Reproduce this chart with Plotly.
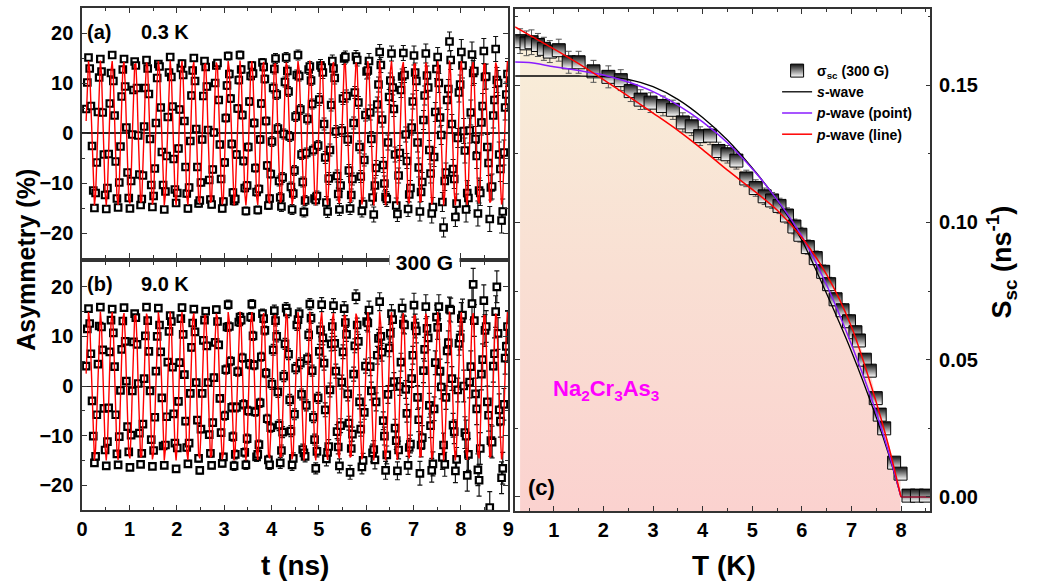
import plotly.graph_objects as go

W, H = 1051, 582

# ---------------- panels (a) and (b): muSR asymmetry time spectra ----------------
T_START = 0.085
T_STEP = 0.025

ASYM_A = [4.8,
 10.1,15.1,12.9,5.4,-2.6,-11.5,-15.0,-12.0,-5.9,4.2,11.1,14.8,12.3,4.1,-4.3,-12.4,-15.2,-11.0,-4.2,5.9,12.0,15.6,10.4,3.5,-5.7,-13.1,-14.9,-9.9,-2.7,7.3,12.7,14.8,9.3,1.1,-7.9,-13.0,-15.1,-9.6,-0.3,8.6,14.3,13.5,9.0,-0.5,-8.3,-14.4,-13.2,-8.5,1.3,9.0,14.6,12.9,7.8,-1.2,-10.4,-14.8,-12.6,-7.1,2.0,
 11.0,13.8,13.3,5.1,-3.8,-10.4,-15.3,-11.7,-4.6,3.2,12.1,15.2,11.2,5.3,-5.2,-11.3,-14.0,-12.0,-3.1,4.7,13.0,13.9,11.6,2.4,-6.8,-12.1,-15.1,-10.9,-1.6,7.5,12.5,15.0,10.4,0.8,-6.8,-14.1,-13.5,-9.9,-1.3,7.4,14.4,13.2,9.3,0.6,-9.4,-13.3,-14.3,-7.3,0.1,10.0,13.5,14.0,6.6,-2.3,-9.2,-15.1,-13.7,-5.9,3.0,
 9.5,15.4,11.8,6.9,-2.2,-11.9,-13.6,-13.2,-4.3,4.9,10.6,15.6,12.7,3.6,-5.6,-11.0,-15.6,-10.5,-2.8,6.3,11.4,13.5,11.9,2.0,-7.0,-11.8,-15.4,-11.2,-1.3,5.9,14.1,13.2,10.8,2.4,-6.5,-14.5,-13.1,-8.2,-1.7,9.0,12.8,14.9,7.7,0.9,-9.6,-12.9,-14.7,-8.9,-0.2,10.2,15.1,12.4,8.3,-0.7,-10.8,-15.3,-12.1,-7.5,3.3,
 11.6,15.6,11.4,4.7,-4.3,-9.8,-15.8,-13.5,-4.0,2.8,12.7,13.3,10.5,5.8,-3.4,-13.1,-13.4,-12.6,-2.5,6.7,13.5,13.1,12.1,1.8,-4.9,-13.9,-15.7,-9.1,-3.4,5.6,14.4,12.9,11.0,0.3,-8.6,-12.2,-15.3,-10.5,0.5,6.9,14.9,15.2,7.4,-1.3,-7.5,-15.1,-12.4,-9.2,2.0,8.1,15.3,14.6,6.1,-2.8,-8.7,-15.6,-14.2,-5.4,3.6,
 12.3,12.5,14.4,4.1,-1.2,-12.9,-16.3,-10.5,-7.0,5.7,9.7,16.2,13.6,2.7,-6.4,-10.1,-12.8,-13.2,-1.9,7.2,10.5,15.9,9.1,4.8,-4.3,-14.5,-16.2,-8.5,-4.0,8.6,11.3,16.0,11.6,-0.3,-5.6,-15.2,-12.3,-11.0,1.1,6.3,15.5,12.1,10.4,-1.9,-6.9,-15.7,-11.8,-9.8,2.6,7.5,15.9,11.5,9.1,-3.4,-8.1,-16.1,-14.8,-4.8,4.2,
 12.8,15.2,10.0,3.1,-0.4,-13.8,-18.9,-9.6,-7.9,6.6,8.8,18.3,14.6,1.8,-7.2,-9.2,-16.8,-14.1,-1.0,8.1,9.7,16.2,13.5,0.4,-3.5,-15.3,-12.0,-13.0,0.5,4.1,15.7,12.0,12.4,-1.2,-4.6,-16.1,-11.5,-12.0,2.1,5.4,16.4,11.2,11.3,-2.8,-6.0,-17.2,-10.9,-10.7,3.5,6.6,16.8,10.6,10.0,-4.3,-7.2,-17.5,-15.7,-3.9,5.1,
 7.7,11.8]

FIT_A = [2.4,
 10.4,14.4,12.6,5.9,-3.1,-11.0,-14.5,-12.3,-5.2,3.9,11.5,14.5,11.8,4.5,-4.6,-11.9,-14.5,-11.4,-3.7,5.4,12.3,14.4,10.9,3.0,-6.1,-12.7,-14.4,-10.3,-2.2,6.8,13.1,14.2,9.8,1.5,-7.4,-13.4,-14.1,-9.2,-0.7,8.1,13.7,13.9,8.6,-0.1,-8.7,-13.9,-13.6,-8.0,0.8,9.3,14.1,13.3,7.3,-1.6,-9.9,-14.3,-13.0,-6.6,2.4,
 10.4,14.4,12.6,5.9,-3.1,-11.0,-14.5,-12.3,-5.2,3.9,11.5,14.5,11.8,4.5,-4.6,-11.9,-14.5,-11.4,-3.7,5.4,12.3,14.4,10.9,3.0,-6.1,-12.7,-14.4,-10.3,-2.2,6.8,13.1,14.2,9.8,1.5,-7.4,-13.4,-14.1,-9.2,-0.7,8.1,13.7,13.9,8.6,-0.1,-8.7,-13.9,-13.6,-8.0,0.8,9.3,14.1,13.3,7.3,-1.6,-9.9,-14.3,-13.0,-6.6,2.4,
 10.4,14.4,12.6,5.9,-3.1,-11.0,-14.5,-12.3,-5.2,3.9,11.5,14.5,11.8,4.5,-4.6,-11.9,-14.5,-11.4,-3.7,5.4,12.3,14.4,10.9,3.0,-6.1,-12.7,-14.4,-10.3,-2.2,6.8,13.1,14.2,9.8,1.5,-7.4,-13.4,-14.1,-9.2,-0.7,8.1,13.7,13.9,8.6,-0.1,-8.7,-13.9,-13.6,-8.0,0.8,9.3,14.1,13.3,7.3,-1.6,-9.9,-14.3,-13.0,-6.6,2.4,
 10.4,14.4,12.6,5.9,-3.1,-11.0,-14.5,-12.3,-5.2,3.9,11.5,14.5,11.8,4.5,-4.6,-11.9,-14.5,-11.4,-3.7,5.4,12.3,14.4,10.9,3.0,-6.1,-12.7,-14.4,-10.3,-2.2,6.8,13.1,14.2,9.8,1.5,-7.4,-13.4,-14.1,-9.2,-0.7,8.1,13.7,13.9,8.6,-0.1,-8.7,-13.9,-13.6,-8.0,0.8,9.3,14.1,13.3,7.3,-1.6,-9.9,-14.3,-13.0,-6.6,2.4,
 10.4,14.4,12.6,5.9,-3.1,-11.0,-14.5,-12.3,-5.2,3.9,11.5,14.5,11.8,4.5,-4.6,-11.9,-14.5,-11.4,-3.7,5.4,12.3,14.4,10.9,3.0,-6.1,-12.7,-14.4,-10.3,-2.2,6.8,13.1,14.2,9.8,1.5,-7.4,-13.4,-14.1,-9.2,-0.7,8.1,13.7,13.9,8.6,-0.1,-8.7,-13.9,-13.6,-8.0,0.8,9.3,14.1,13.3,7.3,-1.6,-9.9,-14.3,-13.0,-6.6,2.4,
 10.4,14.4,12.6,5.9,-3.1,-11.0,-14.5,-12.3,-5.2,3.9,11.5,14.5,11.8,4.5,-4.6,-11.9,-14.5,-11.4,-3.7,5.4,12.3,14.4,10.9,3.0,-6.1,-12.7,-14.4,-10.3,-2.2,6.8,13.1,14.2,9.8,1.5,-7.4,-13.4,-14.1,-9.2,-0.7,8.1,13.7,13.9,8.6,-0.1,-8.7,-13.9,-13.6,-8.0,0.8,9.3,14.1,13.3,7.3,-1.6,-9.9,-14.3,-13.0,-6.6,2.4,
 10.4,14.4]

ASYM_B = [4.0,
 11.5,15.6,12.6,6.5,-3.0,-10.1,-15.5,-14.2,-5.8,4.4,12.1,15.9,11.9,7.3,-4.5,-12.9,-16.1,-11.2,-4.4,6.9,13.3,15.5,10.7,3.9,-5.8,-13.7,-15.9,-10.2,-0.9,7.4,13.1,15.8,9.0,1.0,-8.2,-13.3,-16.4,-9.9,-1.0,8.9,14.6,13.8,8.4,0.5,-9.5,-15.8,-13.6,-7.7,1.5,10.1,15.9,13.2,7.0,-1.0,-10.8,-16.2,-13.0,-6.3,3.0,
 10.0,15.7,12.3,6.9,-2.4,-12.1,-16.0,-11.9,-6.2,4.8,11.0,14.2,13.0,3.8,-5.6,-11.5,-16.7,-12.5,-3.1,4.7,13.6,15.8,10.4,2.3,-7.1,-12.4,-15.7,-11.5,-1.5,7.8,12.7,15.5,10.9,0.7,-6.9,-14.6,-17.0,-8.7,-1.5,9.2,13.3,15.1,8.1,0.7,-9.8,-13.6,-16.0,-7.4,1.7,8.8,15.4,13.0,8.3,-2.5,-9.4,-15.6,-14.3,-6.0,3.3,
 11.9,16.4,12.0,5.0,-4.3,-10.2,-16.1,-13.8,-4.3,2.9,12.9,13.9,13.3,5.7,-3.7,-13.4,-15.9,-10.6,-5.0,4.4,13.9,16.5,10.1,4.2,-5.2,-14.3,-13.8,-11.8,-3.4,5.9,14.6,13.6,11.2,2.6,-6.6,-14.9,-15.9,-8.4,0.4,7.3,15.2,13.2,10.0,-1.2,-7.9,-15.5,-13.0,-9.3,2.0,8.5,15.7,14.9,6.4,-2.8,-9.1,-15.9,-14.6,-5.7,3.6,
 12.3,13.4,14.6,4.6,-1.7,-12.8,-13.5,-14.2,-3.9,5.5,10.3,16.5,13.7,3.1,-6.3,-10.8,-16.6,-13.2,-2.4,7.0,11.3,16.4,9.7,4.6,-4.8,-14.7,-13.4,-12.2,-0.8,8.5,12.0,16.2,8.6,3.0,-9.2,-12.3,-16.1,-8.0,0.8,6.9,15.6,12.8,10.4,-1.6,-7.5,-17.4,-12.6,-9.7,2.4,8.1,18.0,12.3,9.0,-3.2,-8.7,-16.3,-15.0,-5.3,4.0,
 13.0,12.7,15.3,3.9,-1.0,-13.5,-12.8,-14.9,-3.2,6.2,9.6,17.0,10.0,6.8,-7.0,-10.1,-17.0,-13.9,-1.7,7.7,10.6,14.6,13.4,0.9,-8.5,-11.0,-17.1,-12.9,-0.1,4.8,15.7,12.5,12.3,-0.7,-5.5,-16.0,-12.4,-11.7,1.5,6.2,16.3,12.1,11.1,-2.3,-6.8,-17.6,-11.9,-10.4,3.1,7.4,16.0,11.6,9.7,-3.9,-8.0,-17.0,-15.7,-4.6,4.7,
 13.9,11.8,16.0,3.0,-0.2,-14.4,-11.9,-15.8,-2.3,7.1,8.7,15.5,15.3,1.5,-7.9,-9.2,-17.1,-14.8,-0.8,8.6,9.7,13.6,14.3,0.0,-9.4,-10.1,-18.0,-13.8,0.8,3.9,16.6,20.5,13.2,-1.6,-4.6,-16.9,-19.0,-12.6,2.4,5.3,17.2,11.2,12.0,-3.2,-5.9,-24.5,-11.0,-11.3,4.0,6.5,15.0,20.0,10.6,-4.8,-7.1,-18.5,-16.6,-3.7,5.6,
 8.0,12.0]

FIT_B = [2.5,
 10.8,14.9,13.1,6.1,-3.2,-11.3,-15.0,-12.7,-5.4,4.0,11.8,15.0,12.2,4.6,-4.8,-12.3,-15.0,-11.7,-3.9,5.5,12.8,14.9,11.2,3.1,-6.3,-13.2,-14.9,-10.7,-2.3,7.0,13.5,14.7,10.1,1.5,-7.7,-13.8,-14.6,-9.5,-0.7,8.4,14.1,14.3,8.9,-0.1,-9.0,-14.4,-14.1,-8.2,0.9,9.6,14.6,13.8,7.5,-1.7,-10.2,-14.8,-13.5,-6.8,2.5,
 10.8,14.9,13.1,6.1,-3.2,-11.3,-15.0,-12.7,-5.4,4.0,11.8,15.0,12.2,4.6,-4.8,-12.3,-15.0,-11.7,-3.9,5.5,12.8,14.9,11.2,3.1,-6.3,-13.2,-14.9,-10.7,-2.3,7.0,13.5,14.7,10.1,1.5,-7.7,-13.8,-14.6,-9.5,-0.7,8.4,14.1,14.3,8.9,-0.1,-9.0,-14.4,-14.1,-8.2,0.9,9.6,14.6,13.8,7.5,-1.7,-10.2,-14.8,-13.5,-6.8,2.5,
 10.8,14.9,13.1,6.1,-3.2,-11.3,-15.0,-12.7,-5.4,4.0,11.8,15.0,12.2,4.6,-4.8,-12.3,-15.0,-11.7,-3.9,5.5,12.8,14.9,11.2,3.1,-6.3,-13.2,-14.9,-10.7,-2.3,7.0,13.5,14.7,10.1,1.5,-7.7,-13.8,-14.6,-9.5,-0.7,8.4,14.1,14.3,8.9,-0.1,-9.0,-14.4,-14.1,-8.2,0.9,9.6,14.6,13.8,7.5,-1.7,-10.2,-14.8,-13.5,-6.8,2.5,
 10.8,14.9,13.1,6.1,-3.2,-11.3,-15.0,-12.7,-5.4,4.0,11.8,15.0,12.2,4.6,-4.8,-12.3,-15.0,-11.7,-3.9,5.5,12.8,14.9,11.2,3.1,-6.3,-13.2,-14.9,-10.7,-2.3,7.0,13.5,14.7,10.1,1.5,-7.7,-13.8,-14.6,-9.5,-0.7,8.4,14.1,14.3,8.9,-0.1,-9.0,-14.4,-14.1,-8.2,0.9,9.6,14.6,13.8,7.5,-1.7,-10.2,-14.8,-13.5,-6.8,2.5,
 10.8,14.9,13.1,6.1,-3.2,-11.3,-15.0,-12.7,-5.4,4.0,11.8,15.0,12.2,4.6,-4.8,-12.3,-15.0,-11.7,-3.9,5.5,12.8,14.9,11.2,3.1,-6.3,-13.2,-14.9,-10.7,-2.3,7.0,13.5,14.7,10.1,1.5,-7.7,-13.8,-14.6,-9.5,-0.7,8.4,14.1,14.3,8.9,-0.1,-9.0,-14.4,-14.1,-8.2,0.9,9.6,14.6,13.8,7.5,-1.7,-10.2,-14.8,-13.5,-6.8,2.5,
 10.8,14.9,13.1,6.1,-3.2,-11.3,-15.0,-12.7,-5.4,4.0,11.8,15.0,12.2,4.6,-4.8,-12.3,-15.0,-11.7,-3.9,5.5,12.8,14.9,11.2,3.1,-6.3,-13.2,-14.9,-10.7,-2.3,7.0,13.5,14.7,10.1,1.5,-7.7,-13.8,-14.6,-9.5,-0.7,8.4,14.1,14.3,8.9,-0.1,-9.0,-14.4,-14.1,-8.2,0.9,9.6,14.6,13.8,7.5,-1.7,-10.2,-14.8,-13.5,-6.8,2.5,
 10.8,14.9]

# error bar size per 1-ns interval (grows with time)
ERR_PER_NS_A = [0.5, 0.6, 0.7, 0.8, 1.0, 1.2, 1.5, 1.9, 2.5]
ERR_PER_NS_B = [0.5, 0.6, 0.7, 0.9, 1.1, 1.4, 1.8, 2.4, 3.2]

# ---------------- panel (c): superfluid relaxation rate vs temperature ----------------
TEMP = [0.32,0.45,0.55,0.68,0.80,0.92,1.10,1.30,1.50,1.80,2.10,2.35,2.55,2.75,2.95,3.20,3.40,3.60,3.78,3.95,
        4.15,4.32,4.50,4.68,4.88,5.07,5.25,5.40,5.55,5.70,5.85,5.97,6.12,6.28,6.43,6.55,6.68,6.82,6.95,7.08,
        7.15,7.27,7.37,7.49,7.57,7.66,7.86,7.99,8.15,8.32,8.50]
SIGMA = [0.1660,0.1652,0.1656,0.1646,0.1632,0.1622,0.1627,0.1583,0.1583,0.1550,0.1530,0.1518,0.1478,0.1447,0.1436,
         0.1424,0.1410,0.1364,0.1350,0.1314,0.1316,0.1260,0.1248,0.1225,0.1160,0.1125,0.1095,0.1080,0.1060,0.1025,
         0.0985,0.0955,0.0910,0.0870,0.0820,0.0775,0.0720,0.0680,0.0640,0.0600,0.0570,0.0500,0.0460,0.0360,0.0300,
         0.0250,0.0125,0.0085,0.0005,0.0005,0.0005]
SIGMA_ERR = [0.0045,0.0045,0.0045,0.0042,0.0042,0.0040,0.0040,0.0040,0.0040,0.0040,0.0040,0.0038,0.0038,0.0036,0.0036,
             0.0036,0.0035,0.0035,0.0034,0.0034,0.0033,0.0032,0.0032,0.0031,0.0030,0.0030,0.0030,0.0029,0.0028,0.0028,
             0.0027,0.0027,0.0026,0.0026,0.0025,0.0025,0.0024,0.0024,0.0023,0.0023,0.0022,0.0022,0.0021,0.0021,0.0020,
             0.0020,0.0020,0.0020,0.0015,0.0015,0.0015]

CURVE_T = [0.22,0.5,1.0,1.5,2.0,2.5,3.0,3.5,4.0,4.5,5.0,5.5,6.0,6.5,7.0,7.5,7.75,8.0]
S_WAVE  = [0.1533,0.1533,0.1533,0.1533,0.1531,0.1521,0.1494,0.1448,0.1382,0.1300,0.1198,0.1082,0.0935,0.0740,0.0530,0.0290,0.0155,0.0]
P_POINT = [0.1584,0.1582,0.1567,0.1553,0.1537,0.1511,0.1476,0.1427,0.1366,0.1290,0.1195,0.1083,0.0950,0.0772,0.0555,0.0308,0.0163,0.0]
P_LINE  = [0.1712,0.1683,0.1632,0.1578,0.1520,0.1460,0.1398,0.1335,0.1265,0.1190,0.1120,0.1045,0.0945,0.0810,0.0620,0.0345,0.0185,0.0]
NORMAL_T = [8.0, 8.59]
NORMAL_V = [0.0, 0.0]

X_AB_RANGE = [0, 9]
Y_AB_RANGE = [-25, 25]
X_C_RANGE = [0.22, 8.59]
Y_C_RANGE = [-0.0051, 0.1777]

# ------------------------------------------------------------------
time = [round(T_START + T_STEP * i, 4) for i in range(len(ASYM_A))]
err_a = [ERR_PER_NS_A[min(int(t), 8)] for t in time]
err_b = [ERR_PER_NS_B[min(int(t), 8)] for t in time]

FONT = "Liberation Sans, Arial, sans-serif"

def px_x(x):
    return x / W

def px_y(y):
    return 1 - y / H

fig = go.Figure()

marker_ab = dict(symbol="square", size=6.5, color="white", line=dict(color="black", width=2.2))

fig.add_trace(go.Scatter(x=time, y=ASYM_A, mode="markers", marker=marker_ab,
                         error_y=dict(type="data", array=err_a, color="#111111", thickness=1.2, width=2.5),
                         xaxis="x", yaxis="y", showlegend=False))
fig.add_trace(go.Scatter(x=time, y=FIT_A, mode="lines", line=dict(color="#ff0000", width=1.4),
                         xaxis="x", yaxis="y", showlegend=False))
fig.add_trace(go.Scatter(x=time, y=ASYM_B, mode="markers", marker=marker_ab,
                         error_y=dict(type="data", array=err_b, color="#111111", thickness=1.2, width=2.5),
                         xaxis="x2", yaxis="y2", showlegend=False))
fig.add_trace(go.Scatter(x=time, y=FIT_B, mode="lines", line=dict(color="#ff0000", width=1.4),
                         xaxis="x2", yaxis="y2", showlegend=False))

# panel (c) gradient background under the data
n_fill = len([s for s in SIGMA if s > 0.001])
fill_x = TEMP[:n_fill] + [TEMP[n_fill - 1], TEMP[0]]
fill_y = SIGMA[:n_fill] + [Y_C_RANGE[0], Y_C_RANGE[0]]
fig.add_trace(go.Scatter(x=fill_x, y=fill_y, mode="lines", line=dict(width=0), fill="toself",
                         fillgradient=dict(type="vertical",
                                           colorscale=[[0, "#fbd2cf"], [0.5, "#f9dfd3"], [1, "#f8eed9"]],
                                           start=Y_C_RANGE[0], stop=0.165),
                         xaxis="x3", yaxis="y3", showlegend=False, hoverinfo="skip"))

fig.add_trace(go.Scatter(x=TEMP, y=SIGMA, mode="markers",
                         name="<b>σ<sub>sc</sub> (300 G)</b>",
                         marker=dict(symbol="square", size=13, color="#111111",
                                     gradient=dict(type="vertical", color="white"),
                                     line=dict(color="black", width=1)),
                         error_y=dict(type="data", array=SIGMA_ERR, color="#555555", thickness=1, width=3),
                         xaxis="x3", yaxis="y3"))
fig.add_trace(go.Scatter(x=CURVE_T, y=S_WAVE, mode="lines", name="<b><i>s</i>-wave</b>",
                         line=dict(color="black", width=1.3, shape="spline", smoothing=0.8),
                         xaxis="x3", yaxis="y3"))
fig.add_trace(go.Scatter(x=CURVE_T, y=P_POINT, mode="lines", name="<b><i>p</i>-wave (point)</b>",
                         line=dict(color="#8a1cff", width=1.5, shape="spline", smoothing=0.8),
                         xaxis="x3", yaxis="y3"))
fig.add_trace(go.Scatter(x=CURVE_T, y=P_LINE, mode="lines", name="<b><i>p</i>-wave (line)</b>",
                         line=dict(color="#ff0000", width=1.5, shape="spline", smoothing=0.8),
                         xaxis="x3", yaxis="y3"))
fig.add_trace(go.Scatter(x=NORMAL_T, y=NORMAL_V, mode="lines", line=dict(color="#8b0a2a", width=1.5),
                         xaxis="x3", yaxis="y3", showlegend=False))

tickfont = dict(family=FONT, size=20, color="black", weight="bold")
axis_common = dict(showline=True, linecolor="#333333", linewidth=1.5, mirror="ticks",
                   ticks="inside", ticklen=5, tickcolor="#333333", showgrid=False,
                   tickfont=tickfont)

xa_dom = [px_x(77), px_x(508)]
fig.update_layout(
    width=W, height=H,
    margin=dict(l=0, r=0, t=0, b=0),
    paper_bgcolor="white", plot_bgcolor="white",
    font=dict(family=FONT, color="black", weight="bold"),
    xaxis=dict(domain=xa_dom, anchor="y", range=X_AB_RANGE, dtick=1, tick0=0, showticklabels=False,
               minor=dict(ticks="inside", dtick=0.5, ticklen=3, tickcolor="#333333"), **axis_common),
    yaxis=dict(domain=[px_y(258), px_y(8)], anchor="x", range=Y_AB_RANGE, dtick=10, tick0=0,
               zeroline=True, zerolinecolor="#222222", zerolinewidth=1.8, ticklabelstandoff=3,
               minor=dict(ticks="inside", dtick=5, ticklen=3, tickcolor="#333333"), **axis_common),
    xaxis2=dict(domain=xa_dom, anchor="y2", range=X_AB_RANGE, dtick=1, tick0=0,
                minor=dict(ticks="inside", dtick=0.5, ticklen=3, tickcolor="#333333"), **axis_common),
    yaxis2=dict(domain=[px_y(510), px_y(262)], anchor="x2", range=Y_AB_RANGE, dtick=10, tick0=0,
                zeroline=True, zerolinecolor="#222222", zerolinewidth=1.2, ticklabelstandoff=3,
                minor=dict(ticks="inside", dtick=5, ticklen=3, tickcolor="#333333"), **axis_common),
    xaxis3=dict(domain=[px_x(515), px_x(935)], anchor="y3", range=X_C_RANGE, dtick=1, tick0=0,
                minor=dict(ticks="inside", dtick=0.5, ticklen=3, tickcolor="#333333"), **axis_common),
    yaxis3=dict(domain=[px_y(511), px_y(9)], anchor="x3", side="right", range=Y_C_RANGE,
                dtick=0.05, tick0=0, tickformat=".2f", zeroline=False, ticklabelstandoff=3,
                minor=dict(ticks="inside", dtick=0.025, ticklen=3, tickcolor="#333333"), **axis_common),
    legend=dict(x=px_x(780), y=px_y(55), xanchor="left", yanchor="top",
                bgcolor="rgba(0,0,0,0)", borderwidth=0, tracegroupgap=0,
                font=dict(family=FONT, size=14, color="black", weight="bold")),
)

def label(text, x, y, size=20, color="black", xanchor="left", angle=0, bg=None):
    fig.add_annotation(text=text, x=px_x(x), y=px_y(y), xref="paper", yref="paper",
                       xanchor=xanchor, yanchor="middle", showarrow=False, textangle=angle,
                       bgcolor=bg, borderpad=0,
                       font=dict(family=FONT, size=size, color=color, weight="bold"))

label("(a)", 81, 32)
label("0.3 K", 136, 32)
label("(b)", 81, 284)
label("9.0 K", 136, 284)
label(" 300 G ", 423, 262, size=21, xanchor="center", bg="white")
label("(c)", 527, 487, size=22)
label("Na<sub>2</sub>Cr<sub>3</sub>As<sub>3</sub>", 552, 390, size=22, color="#ff00ff")
label("Asymmetry (%)", 20, 260, size=25, xanchor="center", angle=-90)
label("t (ns)", 292, 565, size=28, xanchor="center")
label("T (K)", 726, 565, size=28, xanchor="center")
label("S<sub>sc</sub> (ns<sup>-1</sup>)", 1007, 262, size=27, xanchor="center", angle=-90)

fig.write_html("out.html")
